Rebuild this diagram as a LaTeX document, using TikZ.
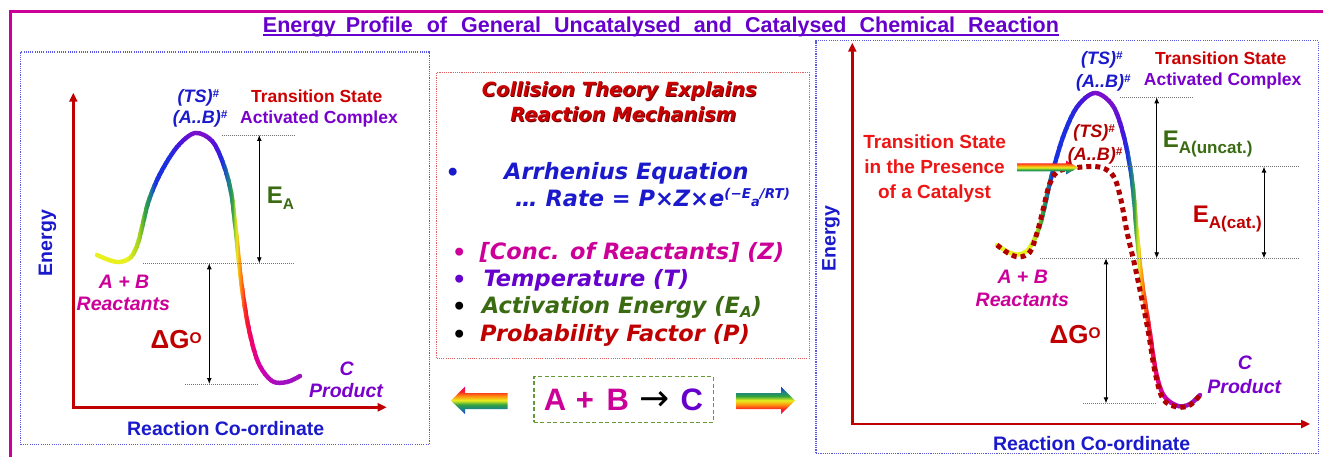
\documentclass[tikz,border=0pt]{standalone}
\usepackage{fontspec}
\setmainfont{Liberation Sans}
\newfontfamily\dvfont{DejaVu Sans}
\usetikzlibrary{arrows.meta}
\newcommand\fsz[1]{\fontsize{#1}{#1}\selectfont}
\definecolor{frameM}{HTML}{CC0099}
\definecolor{titleP}{HTML}{6600CC}
\definecolor{axisR}{HTML}{C00000}
\definecolor{lblB}{HTML}{1A1ACC}
\definecolor{eaG}{HTML}{3A6B12}
\definecolor{boxB}{HTML}{5A5AE0}
\definecolor{boxR}{HTML}{E06060}
\definecolor{boxG}{HTML}{669933}
\definecolor{magT}{HTML}{CC0099}
\definecolor{purT}{HTML}{7A00CC}
\definecolor{redT}{HTML}{CC0000}
\definecolor{brightR}{HTML}{EE1515}
\definecolor{catR}{HTML}{B00000}
\definecolor{shadowR}{HTML}{6A0000}
\definecolor{cY}{HTML}{E8F020}
\definecolor{cYG}{HTML}{A0D020}
\definecolor{cG}{HTML}{30A040}
\definecolor{cT}{HTML}{1A8090}
\definecolor{cB}{HTML}{1A30E0}
\definecolor{cV}{HTML}{5010DD}
\definecolor{cP}{HTML}{7A10CC}
\definecolor{cO}{HTML}{FF9010}
\definecolor{cR}{HTML}{F82020}
\definecolor{cC}{HTML}{F00070}
\definecolor{cM}{HTML}{D000B0}
\definecolor{cPM}{HTML}{A010C0}
\pgfdeclareverticalshading{rainbowdown}{100bp}{color(0bp)=(cB); color(25bp)=(cB); color(34bp)=(cT); color(42bp)=(cG); color(50bp)=(cY); color(58bp)=(cO); color(66bp)=(cR); color(75bp)=(cC); color(100bp)=(cC)}
\pgfdeclareverticalshading{rainbowup}{100bp}{color(0bp)=(cC); color(25bp)=(cC); color(34bp)=(cR); color(42bp)=(cO); color(50bp)=(cY); color(58bp)=(cG); color(66bp)=(cT); color(75bp)=(cB); color(100bp)=(cB)}
\tikzset{
 lbl/.style={inner sep=0pt, anchor=base, font=\bfseries\fsz{17.5}},
 big/.style={inner sep=0pt, anchor=base, font=\bfseries\itshape\fsz{19.5}},
 tslbl/.style={inner sep=0pt, anchor=base, font=\bfseries\itshape\fsz{18}},
 axislbl/.style={inner sep=0pt, font=\bfseries\fsz{19.5}, text=lblB},
 mid/.style={inner sep=0pt, anchor=base west, font=\dvfont\bfseries\itshape\fsz{22.5}},
 bul/.style={inner sep=0pt, anchor=base, font=\dvfont\bfseries\fsz{22.5}},
 eqtxt/.style={inner sep=0pt, anchor=base, font=\bfseries\fsz{31}},
 dotline/.style={draw=black!55, line width=0.8pt, dash pattern=on 1pt off 1pt},
 dbl/.style={draw=black, line width=0.9pt, {Latex[length=6pt,width=5pt]}-{Latex[length=6pt,width=5pt]}},
 axisline/.style={draw=axisR, line width=2.6pt, {Triangle[length=9pt,width=8pt]}-{Triangle[length=9pt,width=8pt]}},
 panelbox/.style={draw=boxB, line width=1.1pt, dash pattern=on 1.1pt off 1.1pt},
 curvestroke/.style={line width=4.3pt, line cap=round},
 catstroke/.style={draw=catR, line width=5pt, dash pattern=on 5pt off 4pt},
 dglbl/.style={inner sep=0pt, anchor=base west, font=\bfseries\fsz{26}, text=axisR},
}
\newcommand\gradstroke[2]{%
  \foreach \xa/\xb/\ca/\cb in {#2}{%
    \pgfmathtruncatemacro\nn{max(1,round((\xb-\xa)/1.5))}%
    \foreach \ii in {1,...,\nn}{%
      \pgfmathsetmacro\xl{\xa+(\ii-1)*(\xb-\xa)/\nn-0.3}%
      \pgfmathsetmacro\xr{\xa+\ii*(\xb-\xa)/\nn+0.3}%
      \pgfmathtruncatemacro\pp{round(100-100*(\ii-0.5)/\nn)}%
      \begin{scope}
        \clip (\xl,0) rectangle (\xr,460);
        \draw[curvestroke,draw=\ca!\pp!\cb] #1;
      \end{scope}
    }%
  }%
}
\def\curveL{plot[smooth,tension=0.55] coordinates {(97,255) (109,260) (120,262) (131,257) (138,243) (143,223) (149,200) (160,174) (177,147) (195,133) (212,141) (223,163) (231,192) (236,232) (241,280) (248,325) (258,362) (272,381) (287,382) (300,376)}}
\def\curveR{plot[smooth,tension=0.55] coordinates {(997,245) (1008,252) (1018,254.5) (1027,251) (1034,240) (1040,225) (1045,205) (1051,178) (1063,137) (1077,107) (1095,93) (1113,106) (1124,137) (1132,180) (1137,235) (1142,282) (1149,327) (1156,372) (1164,396) (1178,406) (1190,404) (1200,395)}}
\def\curveC{plot[smooth,tension=0.55] coordinates {(997,245) (1008,253) (1019,257) (1030,252) (1037,233) (1043,210) (1049,186) (1057,172) (1073,168) (1095,166.5) (1107,170) (1115,179) (1121,200) (1127,232) (1134,262) (1141,295) (1148,330) (1155,372) (1163,399) (1177,407) (1190,405) (1201,394)}}
\begin{document}
\begin{tikzpicture}[x=1pt,y=-1pt]
\useasboundingbox (0,0) rectangle (1323,457);
\fill[white] (0,0) rectangle (1323,457);
% outer frame
\coordinate (frBL) at (10.3,475);
\coordinate (frTR) at (1340,11.3);
\draw[draw=frameM, line width=2.8pt] (frBL) |- (frTR);
% title
\node[inner sep=0pt, anchor=base, font=\bfseries\fsz{21.5}, text=titleP] (title) at (661,32.5) {Energy\hspace{10pt}Profile\hspace{14pt}of\hspace{14pt}General\hspace{13pt}Uncatalysed\hspace{13pt}and\hspace{13pt}Catalysed\hspace{13pt}Chemical\hspace{13pt}Reaction};
\draw[draw=titleP, line width=1.4pt] ([yshift=-2.6pt]title.base west) -- ([yshift=-2.6pt]title.base east);
% boxes
\node[panelbox, inner sep=0pt, minimum width=408.6pt, minimum height=392.3pt] (boxL) at (225,248.15) {};
\node[draw=boxR, line width=1.1pt, dash pattern=on 1.1pt off 1.1pt, inner sep=0pt, minimum width=372.6pt, minimum height=286pt] (boxM) at (623,215.5) {};
\node[panelbox, inner sep=0pt, minimum width=502.3pt, minimum height=412.6pt] (boxR) at (1067.15,247) {};

% ================= LEFT PANEL =================
\coordinate (LyT) at (73.3,92.7);
\coordinate (LxT) at (386.7,407.3);
\draw[axisline] (LyT) |- (LxT);
\node[axislbl, rotate=90] (enL) at (47.5,243) {Energy};
\node[axislbl, anchor=base] (rcL) at (225.7,435) {Reaction Co-ordinate};
\gradstroke{\curveL}{90/128/cY/cY, 128/140/cY/cYG, 140/146/cYG/cG, 146/151/cG/cT, 151/156/cT/cB, 156/168/cB/cB, 168/182/cB/cV, 182/195/cV/cP, 195/206/cP/cP, 206/216/cP/cV, 216/223/cV/cB, 223/229/cB/cT, 229/233/cT/cG, 233/237/cG/cY, 237/241/cY/cO, 241/246/cO/cR, 246/252/cR/cC, 252/262/cC/cM, 262/280/cM/cPM, 280/306/cPM/cPM}
\coordinate (Lpk1) at (221.7,135); \coordinate (Lpk2) at (295,135);
\coordinate (Lre1) at (143.3,263.3); \coordinate (Lre2) at (294,263.3);
\coordinate (Lpr1) at (185,384); \coordinate (Lpr2) at (259,384);
\draw[dotline] (Lpk1) -- (Lpk2);
\draw[dotline] (Lre1) -- (Lre2);
\draw[dotline] (Lpr1) -- (Lpr2);
\coordinate (LeaT) at (259.3,135); \coordinate (LeaB) at (259.3,263.3);
\coordinate (LdgT) at (209.3,263.3); \coordinate (LdgB) at (209.3,384);
\draw[dbl] (LeaT) -- (LeaB);
\draw[dbl] (LdgT) -- (LdgB);
\node[tslbl, text=lblB] (tsL1) at (198.3,102.7) {(TS)\raisebox{5pt}{\fsz{11.5}\#}};
\node[tslbl, text=lblB] (tsL2) at (200,124) {(A..B)\raisebox{5pt}{\fsz{11.5}\#}};
\node[lbl, text=redT] (trL) at (316.7,102.5) {Transition State};
\node[lbl, text=purT] (acL) at (319,123.3) {Activated Complex};
\node[inner sep=0pt, anchor=base west, font=\bfseries\fsz{24}, text=eaG] (eaL) at (266.7,203.3) {E\raisebox{-6.5pt}{\fsz{15.5}A}};
\node[dglbl] (dgL) at (150.5,348.3) {ΔG\raisebox{5pt}{\fsz{15.5}O}};
\node[big, text=magT] (abL) at (124,288.3) {A + B};
\node[big, text=magT] (reL) at (123.3,310.7) {Reactants};
\node[big, text=purT] (cL) at (346.7,375) {C};
\node[big, text=purT] (prL) at (346,397.7) {Product};

% ================= MIDDLE =================
\node[inner sep=0pt, anchor=base, font=\dvfont\bfseries\itshape\fsz{19.5}, text=shadowR] (colS) at (620.2,97.6) {Collision Theory Explains};
\node[inner sep=0pt, anchor=base, font=\dvfont\bfseries\itshape\fsz{19.5}, text=redT] (col) at (619.3,96.7) {Collision Theory Explains};
\node[inner sep=0pt, anchor=base, font=\dvfont\bfseries\itshape\fsz{19.5}, text=shadowR] (mechS) at (624.2,122.6) {Reaction Mechanism};
\node[inner sep=0pt, anchor=base, font=\dvfont\bfseries\itshape\fsz{19.5}, text=redT] (mech) at (623.3,121.7) {Reaction Mechanism};
\node[bul, text=lblB] (b1) at (452.7,181) {•};
\node[mid, text=lblB] (arr) at (504,180) {Arrhenius Equation};
\node[mid, text=lblB] (rate) at (515,206.7) {… Rate = P×Z×e\raisebox{8.5pt}{\fsz{13.5}(−E\raisebox{-8.5pt}{\fsz{13}a}/RT)}};
\node[bul, text=magT] (b2) at (459.3,261) {•};
\node[mid, text=magT] (conc) at (479.3,260) {[Conc. of Reactants] (Z)};
\node[bul, text=titleP] (b3) at (459.3,287.7) {•};
\node[mid, text=titleP] (temp) at (483.3,286.7) {Temperature (T)};
\node[bul, text=black] (b4) at (459.3,314.3) {•};
\node[mid, text=eaG] (act) at (481.7,313.3) {Activation Energy (E\raisebox{-4pt}{\fsz{15}A})};
\node[bul, text=black] (b5) at (459.3,342) {•};
\node[mid, text=axisR] (prob) at (480,341) {Probability Factor (P)};

% equation box
\node[draw=boxG, line width=1.3pt, dash pattern=on 4pt off 2.5pt, minimum width=179.7pt, minimum height=45.6pt, inner sep=0pt] (eqbox) at (623.8,399.5) {};
\node[eqtxt, text=magT] (eqA) at (555,410) {A};
\node[eqtxt, text=magT] (eqP) at (585,410) {+};
\node[eqtxt, text=magT] (eqB) at (617.7,410) {B};
\node[inner sep=0pt, font=\dvfont\fsz{36}, text=black] (eqArr) at (654.3,401.5) {→};
\node[eqtxt, text=titleP] (eqC) at (691.7,410) {C};
% rainbow arrows
\shade[shading=rainbowdown] (451,400.7) -- (465,386.7) -- (465,393) -- (507.7,393) -- (507.7,409) -- (465,409) -- (465,414) -- cycle;
\shade[shading=rainbowup] (795,400.7) -- (781,386.7) -- (781,393) -- (736.7,393) -- (736.7,409) -- (781,409) -- (781,414) -- cycle;

% ================= RIGHT PANEL =================
\coordinate (RyT) at (852.3,42.7);
\coordinate (RxT) at (1310,424);
\draw[axisline] (RyT) |- (RxT);
\node[axislbl, rotate=90] (enR) at (831,238.3) {Energy};
\node[axislbl, anchor=base] (rcR) at (1091.7,450) {Reaction Co-ordinate};
\gradstroke{\curveR}{990/1030/cY/cY, 1030/1038/cY/cYG, 1038/1043/cYG/cG, 1043/1048/cG/cT, 1048/1053/cT/cB, 1053/1070/cB/cB, 1070/1085/cB/cV, 1085/1095/cV/cP, 1095/1112/cP/cP, 1112/1122/cP/cV, 1122/1128/cV/cB, 1128/1132/cB/cT, 1132/1135/cT/cG, 1135/1139/cG/cY, 1139/1143/cY/cO, 1143/1149/cO/cR, 1149/1155/cR/cC, 1155/1165/cC/cM, 1165/1180/cM/cPM, 1180/1206/cPM/cPM}
\draw[catstroke] \curveC;
\coordinate (Rpk1) at (1120,97.3); \coordinate (Rpk2) at (1192.7,97.3);
\coordinate (Rcp1) at (1111.7,166.7); \coordinate (Rcp2) at (1298.3,166.7);
\coordinate (Rre1) at (1040,258.3); \coordinate (Rre2) at (1298.3,258.3);
\coordinate (Rpr1) at (1083.3,403.3); \coordinate (Rpr2) at (1156.7,403.3);
\draw[dotline] (Rpk1) -- (Rpk2);
\draw[dotline] (Rcp1) -- (Rcp2);
\draw[dotline] (Rre1) -- (Rre2);
\draw[dotline] (Rpr1) -- (Rpr2);
\coordinate (ReuT) at (1156.7,97.3); \coordinate (ReuB) at (1156.7,258.3);
\coordinate (RecT) at (1264,166.7); \coordinate (RecB) at (1264,258.3);
\coordinate (RdgT) at (1106,258.3); \coordinate (RdgB) at (1106,403.3);
\draw[dbl] (ReuT) -- (ReuB);
\draw[dbl] (RecT) -- (RecB);
\draw[dbl] (RdgT) -- (RdgB);
% catalyst arrow
\shade[shading=rainbowdown] (1017,163.5) -- (1066,163.5) -- (1066,160.5) -- (1078,167.5) -- (1066,174.5) -- (1066,171.5) -- (1017,171.5) -- cycle;
\node[tslbl, text=lblB] (tsR1) at (1101.7,65) {(TS)\raisebox{5pt}{\fsz{11.5}\#}};
\node[tslbl, text=lblB] (tsR2) at (1103.3,87.3) {(A..B)\raisebox{5pt}{\fsz{11.5}\#}};
\node[lbl, text=redT] (trR) at (1220.7,65) {Transition State};
\node[lbl, text=purT] (acR) at (1222.7,86) {Activated Complex};
\node[tslbl, text=catR] (tsC1) at (1094,137.3) {(TS)\raisebox{5pt}{\fsz{11.5}\#}};
\node[tslbl, text=catR] (tsC2) at (1095,160.7) {(A..B)\raisebox{5pt}{\fsz{11.5}\#}};
\node[inner sep=0pt, anchor=base, font=\bfseries\fsz{19}, text=brightR] (ct1) at (934.6,149) {Transition State};
\node[inner sep=0pt, anchor=base, font=\bfseries\fsz{19}, text=brightR] (ct2) at (934.6,173.3) {in the Presence};
\node[inner sep=0pt, anchor=base, font=\bfseries\fsz{19}, text=brightR] (ct3) at (934.6,198.3) {of a Catalyst};
\node[inner sep=0pt, anchor=base west, font=\bfseries\fsz{24}, text=eaG] (eaU) at (1162.7,147.3) {E\raisebox{-6.7pt}{\fsz{17}A(uncat.)}};
\node[inner sep=0pt, anchor=base west, font=\bfseries\fsz{24}, text=axisR] (eaC) at (1192.7,222.7) {E\raisebox{-6.3pt}{\fsz{17}A(cat.)}};
\node[dglbl] (dgR) at (1049.5,343.3) {ΔG\raisebox{5pt}{\fsz{15.5}O}};
\node[big, text=magT] (abR) at (1022.7,283.3) {A + B};
\node[big, text=magT] (reR) at (1022.3,306) {Reactants};
\node[big, text=purT] (cR) at (1245,369.3) {C};
\node[big, text=purT] (prR) at (1244.3,393.3) {Product};
\end{tikzpicture}
\end{document}
